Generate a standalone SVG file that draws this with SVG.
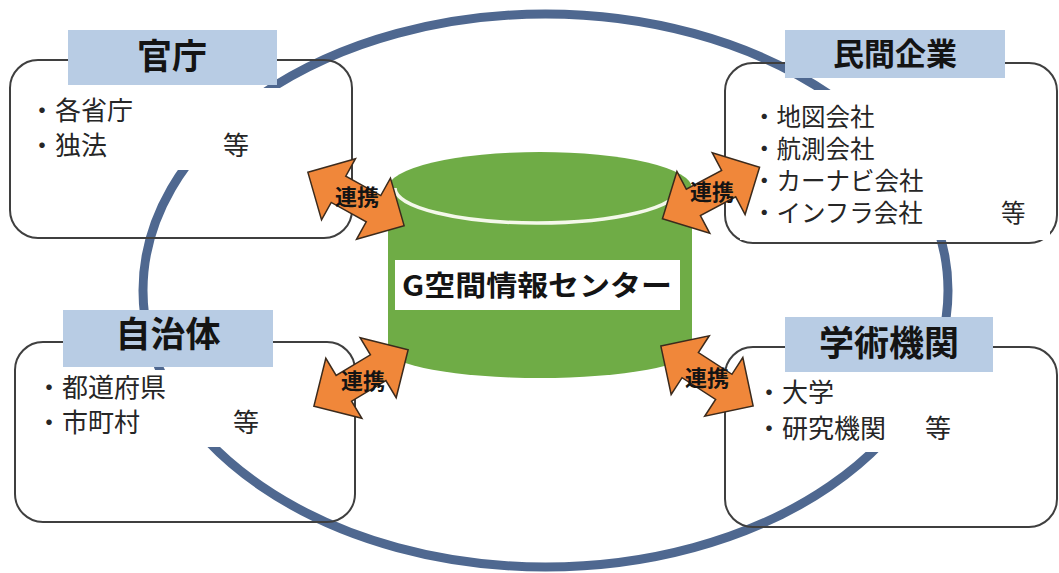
<svg xmlns="http://www.w3.org/2000/svg" xmlns:xlink="http://www.w3.org/1999/xlink" width="1059" height="573" viewBox="0 0 1059 573">
<style>
.box{fill:none;stroke:#3f3f3f;stroke-width:2}
.lbl{fill:#b8cce4}
.mask{fill:#fff}
.title{font-family:"Noto Sans CJK JP",sans-serif;font-weight:bold;fill:#141414;text-anchor:middle}
.body{font-family:"Noto Sans CJK JP",sans-serif;font-size:26px;fill:#262626}
.body.sm{font-size:24.5px}
.ring{fill:none;stroke:#4f6890;stroke-width:9}
.arrow{fill:#f0873a;stroke:#3b2a1c;stroke-width:1.5;stroke-linejoin:miter}
.ak{font-family:"Noto Sans CJK JP",sans-serif;font-weight:bold;font-size:22px;text-anchor:middle;fill:#141414}
.cyl{fill:#6fac46}
</style>
<defs>
<polygon id="dbl" points="-55,0 -20,-35 -20,-15 20,-15 20,-35 55,0 20,35 20,15 -20,15 -20,35"/>
</defs>
<rect width="1059" height="573" fill="#fff"/>
<g id="ring">
<ellipse class="ring" cx="545.5" cy="290.5" rx="402.5" ry="276.5"/>
</g>
<g id="kancho">
<rect class="box" x="10" y="60" width="342" height="178" rx="28"/>
<rect class="mask" x="24" y="88" width="280" height="82"/>
<rect class="lbl" x="68" y="30" width="209" height="55"/>
<text class="title" x="172" y="69" font-size="35">官庁</text>
<text class="body" x="29" y="120">・各省庁</text>
<text class="body" x="29" y="155">・独法<tspan x="223">等</tspan></text>
</g>
<g id="minkan">
<rect class="box" x="725" y="63" width="332" height="180" rx="28"/>
<rect class="mask" x="740" y="90" width="310" height="150"/>
<rect class="lbl" x="785" y="30" width="220" height="48"/>
<text class="title" x="895" y="65" font-size="31">民間企業</text>
<text class="body sm" x="752" y="126">・地図会社</text>
<text class="body sm" x="752" y="158">・航測会社</text>
<text class="body sm" x="752" y="190">・カーナビ会社</text>
<text class="body sm" x="752" y="222">・インフラ会社<tspan x="1001">等</tspan></text>
</g>
<g id="jichitai">
<rect class="box" x="15" y="342" width="340" height="180" rx="28"/>
<rect class="mask" x="28" y="370" width="280" height="77"/>
<rect class="lbl" x="63" y="310" width="210" height="57"/>
<text class="title" x="168" y="347" font-size="35">自治体</text>
<text class="body" x="36" y="397">・都道府県</text>
<text class="body" x="36" y="432">・市町村<tspan x="233">等</tspan></text>
</g>
<g id="gakujutsu">
<rect class="box" x="725" y="347" width="332" height="180" rx="28"/>
<rect class="mask" x="740" y="372" width="310" height="80"/>
<rect class="lbl" x="785" y="317" width="208" height="55"/>
<text class="title" x="889" y="356" font-size="35">学術機関</text>
<text class="body" x="756" y="402">・大学</text>
<text class="body" x="756" y="438">・研究機関<tspan x="925">等</tspan></text>
</g>
<g id="center">
<path class="cyl" d="M388,188 A152,36 0 0 1 692,188 L692,350 A152,28 0 0 1 388,350 Z"/>
<path d="M395,188 A142,35 0 0 0 679,188" fill="none" stroke="#f4f8ea" stroke-width="3.5"/>
<rect class="mask" x="395" y="260" width="285" height="50"/>
<text class="title" x="537" y="296" font-size="28" textLength="270" lengthAdjust="spacingAndGlyphs">G空間情報センター</text>
</g>
<g id="connectors">
<use class="arrow" href="#dbl" xlink:href="#dbl" transform="translate(356,199) rotate(29)"/>
<use class="arrow" href="#dbl" xlink:href="#dbl" transform="translate(711,193) rotate(-28)"/>
<use class="arrow" href="#dbl" xlink:href="#dbl" transform="translate(361,378) rotate(-31)"/>
<use class="arrow" href="#dbl" xlink:href="#dbl" transform="translate(707,376) rotate(33)"/>
<text class="ak" x="357" y="205">連携</text>
<text class="ak" x="712" y="200">連携</text>
<text class="ak" x="363" y="389">連携</text>
<text class="ak" x="707" y="386">連携</text>
</g>
</svg>
